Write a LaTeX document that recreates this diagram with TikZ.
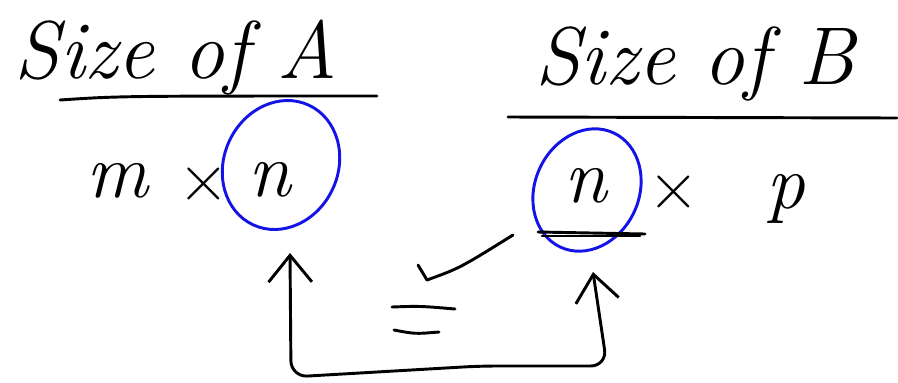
\documentclass[tikz,border=0pt]{standalone}
\usepackage{fontspec}
\setmainfont{Latin Modern Roman}
\usetikzlibrary{arrows.meta}
\definecolor{inkblue}{RGB}{20,20,230}
\tikzset{
  ink/.style={line width=2.5pt, line cap=round, line join=round, black},
  blueink/.style={line width=2.5pt, inkblue},
  title/.style={font=\fontsize{70}{76}\selectfont\itshape, inner sep=0pt},
  sym/.style={font=\fontsize{66}{70}\selectfont\itshape, inner sep=0pt},
  op/.style={font=\fontsize{60}{66}\selectfont, inner sep=0pt},
  >={Straight Barb[length=0.8cm, width=1.3cm, line width=2.5pt]}
}
\begin{document}
\begin{tikzpicture}[x=0.03cm, y=-0.03cm]
\useasboundingbox (0,0) rectangle (898,382);
% titles
\node[title] (tA) at (176,58) {Size of A};
\node[title] (tB) at (695,64) {Size of B};
\draw[ink] (60,100) .. controls (120,96) .. (377,96);
\draw[ink] (508,117) -- (897,118);
% left dimensions
\node[sym] (mA) at (117,181) {m};
\node[op]  (xA) at (204,184) {×};
\node[sym] (nA) at (270,180) {n};
% right dimensions
\node[sym] (nB) at (586,186) {n};
\node[op]  (xB) at (674,192) {×};
\node[sym] (pB) at (786,199) {p};
% blue circles
\draw[blueink, rotate around={-25:(281,165)}] (281,165) ellipse (57 and 66);
\draw[blueink, rotate around={-25:(587,190)}] (587,190) ellipse (52 and 63);
% double underline under right n
\draw[ink] (538,232) -- (645,234);
\draw[ink] (542,236) -- (640,236);
% check mark
\coordinate (c1) at (418,265);
\coordinate (c2) at (427,280);
\coordinate (c3) at (513,235);
\draw[ink] (c1) -- (c2) .. controls (460,268) .. (c3);
% equals sign
\coordinate (e1) at (392,307);
\coordinate (e2) at (455,309);
\coordinate (e3) at (394,330);
\coordinate (e4) at (439,332);
\draw[ink] (e1) .. controls (420,306) .. (e2);
\draw[ink] (e3) .. controls (415,334) .. (e4);
% connector
\coordinate (la) at (290,253);
\coordinate (ra) at (593,272);
\draw[ink, <->, rounded corners=14pt] (la) -- (291,377) -- (480,366) -- (607,366) -- (ra);
\end{tikzpicture}
\end{document}
